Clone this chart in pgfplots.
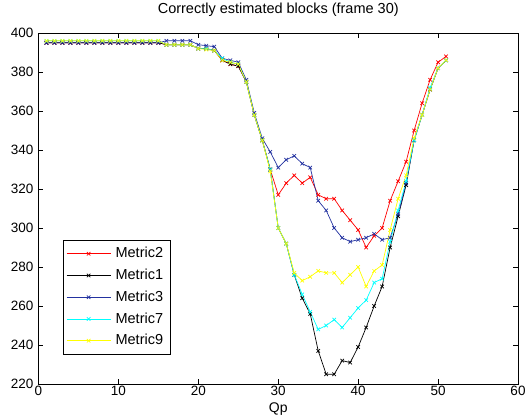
\documentclass[border=0pt]{standalone}
\usepackage{fontspec}
\setmainfont{Liberation Sans}
\usepackage{pgfplots}
\pgfplotsset{compat=1.18}
\usetikzlibrary{calc}
\definecolor{mblue}{RGB}{35,50,160}
\definecolor{mcyan}{RGB}{0,255,255}
\definecolor{myellow}{RGB}{255,255,0}
\pgfplotstableread{
x red black blue cyan yellow
1 395 395 395 396 396
2 395 395 395 396 396
3 395 395 395 396 396
4 395 395 395 396 396
5 395 395 395 396 396
6 395 395 395 396 396
7 395 395 395 396 396
8 395 395 395 396 396
9 395 395 395 396 396
10 395 395 395 396 396
11 395 395 395 396 396
12 395 395 395 396 396
13 395 395 395 396 396
14 395 395 395 396 396
15 395 395 395 396 396
16 394 394 396 394 394
17 394 394 396 394 394
18 394 394 396 394 394
19 394 394 396 394 394
20 392 392 394 392 392
21 392 392 393.5 392 391.5
22 391 391 393 391 391
23 386 386 387 387 386
24 384 384 386 385 385
25 383 383 385 384 384
26 375 375 376 375 375
27 358 358 359 358 358
28 345 345 346 345 345
29 330 330 339 330 329
30 317 300 331 300 300
31 323 292 335 292 292
32 327 276 337 276 277
33 323 264 333 266 273
34 326 256 331 257 275
35 317 237 314 248 278
36 315 225 309 250 277
37 315 225 300 253 277
38 309 232 295 249 272
39 304 231 293 254 276
40 299 239 294 259 280
41 290 249 295 263 270
42 296 260 297 272 278
43 300 270 294 274 281
44 314 290 295 293 299
45 324 306 307 309 315
46 334 322 323 324 327
47 350 345 345 345 346
48 364 358 358 358 358
49 376 371 371 372 371
50 385 382 382 382 382
51 388 386 386 386 386
}\datatable
\begin{document}
\fontsize{13.5}{16}\selectfont
\begin{tikzpicture}
\begin{axis}[
  name=ax,
  scale only axis,
  width=479.5pt, height=351pt,
  xmin=0, xmax=60, ymin=220, ymax=400,
  xtick={0,10,...,60}, ytick={220,240,...,400},
  tick align=inside,
  major tick length=5pt,
  axis line style={line width=0.7pt},
  every tick/.style={black, line width=0.6pt},
  /pgf/number format/assume math mode=true,
  /pgf/number format/set thousands separator={},
  tick label style={font=\fontsize{13.5}{16}\selectfont},
  xticklabel style={anchor=north, inner sep=0pt, yshift=-2pt},
  yticklabel style={anchor=east, inner sep=0pt, xshift=-5pt},
  title={Correctly estimated blocks (frame 30)},
  title style={at={(0.5,1)}, anchor=base, inner sep=0pt, yshift=14pt, font=\fontsize{14.5}{17}\selectfont},
  xlabel={Qp},
  xlabel style={at={(0.5,0)}, anchor=south, inner sep=0pt, yshift=-31.5pt, font=\fontsize{14}{16}\selectfont},
  legend cell align=left,
  legend style={at={(0.051,0.083)}, anchor=south west, draw=black, line width=0.7pt,
    font=\fontsize{14.5}{17}\selectfont, inner sep=3pt, row sep=0pt,
    nodes={inner sep=4.6pt}},
  legend image code/.code={\draw[mark repeat=2,mark phase=2,#1] plot coordinates {(0pt,0pt) (22pt,0pt) (44pt,0pt)};},
  every axis plot/.append style={line width=0.7pt, mark=x, mark size=2.5pt, mark options={solid}},
]
\addplot[red] table[x=x,y=red] {\datatable};
\addlegendentry{Metric2}
\addplot[black] table[x=x,y=black] {\datatable};
\addlegendentry{Metric1}
\addplot[mblue] table[x=x,y=blue] {\datatable};
\addlegendentry{Metric3}
\addplot[mcyan] table[x=x,y=cyan] {\datatable};
\addlegendentry{Metric7}
\addplot[myellow] table[x=x,y=yellow] {\datatable};
\addlegendentry{Metric9}
\end{axis}
\pgfresetboundingbox
\path ($(ax.south west)+(-38.5pt,-32pt)$) rectangle ($(ax.north east)+(7pt,33pt)$);
\end{tikzpicture}
\end{document}
